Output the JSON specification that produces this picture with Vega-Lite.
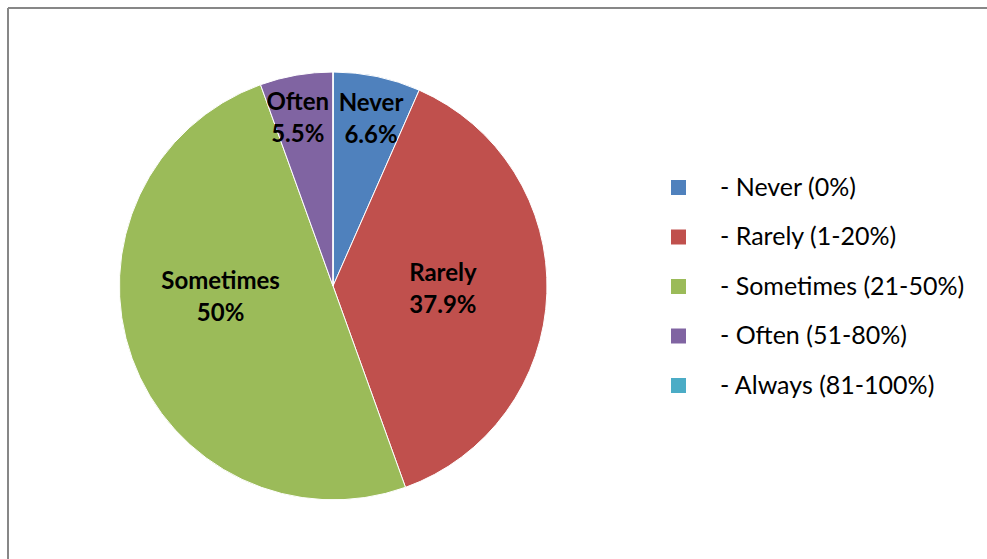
{
  "$schema": "https://vega.github.io/schema/vega-lite/v6.json",
  "width": 979,
  "height": 551,
  "autosize": {"type": "none"},
  "padding": {"left": 8, "top": 8, "right": 0, "bottom": 0},
  "background": "white",
  "config": {"view": {"stroke": null}, "font": "Lato"},
  "layer": [
    {
      "data": {"values": [{"frame": 1}]},
      "mark": {"type": "rect", "fill": null, "stroke": "#878787", "strokeWidth": 2, "strokeDash": [979, 1530, 551, 0]},
      "encoding": {}
    },
    {
      "data": {
        "values": [
          {"ord": 1, "name": "Never", "pct": "6.6%", "value": 6.6, "cat": "- Never (0%)"},
          {"ord": 2, "name": "Rarely", "pct": "37.9%", "value": 37.9, "cat": "- Rarely (1-20%)"},
          {"ord": 3, "name": "Sometimes", "pct": "50%", "value": 50, "cat": "- Sometimes (21-50%)"},
          {"ord": 4, "name": "Often", "pct": "5.5%", "value": 5.5, "cat": "- Often (51-80%)"},
          {"ord": 5, "name": "Always", "pct": "0%", "value": 0, "cat": "- Always (81-100%)"}
        ]
      },
      "transform": [
        {"calculate": "datum.name == 'Never' ? [datum.name, datum.pct] : ''", "as": "lblNever"},
        {"calculate": "datum.name == 'Often' ? [datum.name, datum.pct] : ''", "as": "lblOften"},
        {"calculate": "datum.name == 'Rarely' ? [datum.name, datum.pct] : ''", "as": "lblRarely"},
        {"calculate": "datum.name == 'Sometimes' ? [datum.name, datum.pct] : ''", "as": "lblSometimes"}
      ],
      "encoding": {
        "theta": {"field": "value", "type": "quantitative", "stack": true},
        "order": {"field": "ord", "type": "quantitative"}
      },
      "layer": [
        {
          "mark": {"type": "arc", "radius": 214, "x": 325, "y": 278, "stroke": "white", "strokeWidth": 1},
          "encoding": {
            "color": {
              "field": "cat",
              "type": "nominal",
              "sort": null,
              "scale": {
                "domain": ["- Never (0%)", "- Rarely (1-20%)", "- Sometimes (21-50%)", "- Often (51-80%)", "- Always (81-100%)"],
                "range": ["#4F81BD", "#C0504D", "#9BBB59", "#8064A2", "#4BACC6"]
              },
              "legend": {
                "orient": "none",
                "legendX": 658,
                "legendY": 167,
                "title": null,
                "symbolType": "square",
                "symbolSize": 225,
                "symbolStrokeWidth": 0,
                "labelFont": "Lato",
                "labelFontSize": 25,
                "labelColor": "black",
                "labelLimit": 400,
                "labelOffset": 29,
                "rowPadding": 23.5
              }
            }
          }
        },
        {
          "mark": {"type": "text", "radius": 170, "x": 325, "y": 278, "dx": 3, "dy": -16, "font": "Lato", "fontWeight": "bold", "fontSize": 24, "lineHeight": 32, "baseline": "middle", "align": "center", "color": "black"},
          "encoding": {"text": {"field": "lblNever"}}
        },
        {
          "mark": {"type": "text", "radius": 170, "x": 325, "y": 278, "dx": -6, "dy": -16, "font": "Lato", "fontWeight": "bold", "fontSize": 24, "lineHeight": 32, "baseline": "middle", "align": "center", "color": "black"},
          "encoding": {"text": {"field": "lblOften"}}
        },
        {
          "mark": {"type": "text", "radius": 110, "x": 325, "y": 278, "dy": -16, "font": "Lato", "fontWeight": "bold", "fontSize": 24, "lineHeight": 32, "baseline": "middle", "align": "center", "color": "black"},
          "encoding": {"text": {"field": "lblRarely"}}
        },
        {
          "mark": {"type": "text", "radius": 111, "x": 325, "y": 278, "dx": -8, "dy": -42, "font": "Lato", "fontWeight": "bold", "fontSize": 24, "lineHeight": 32, "baseline": "middle", "align": "center", "color": "black"},
          "encoding": {"text": {"field": "lblSometimes"}}
        }
      ]
    }
  ]
}
